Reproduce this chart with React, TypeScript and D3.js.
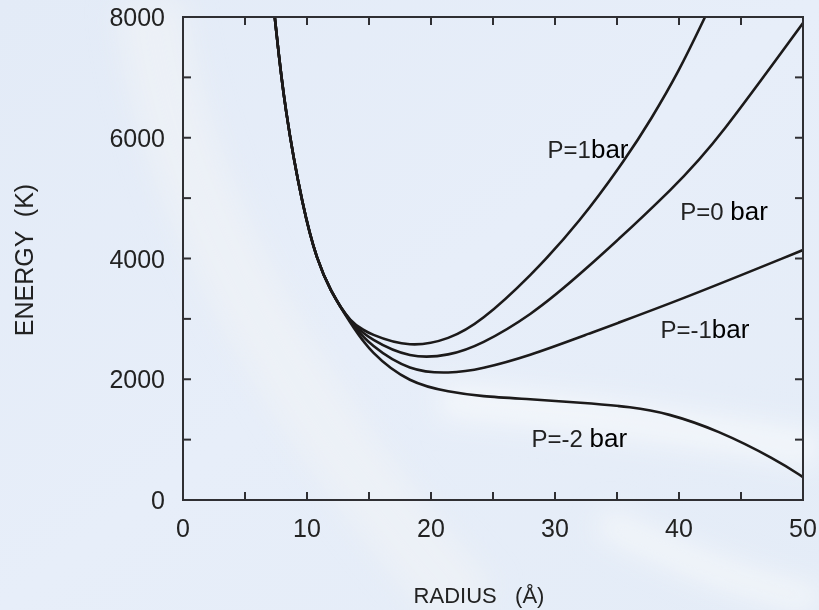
import React, { useEffect, useRef } from 'react';
import * as d3 from 'd3';

// Curves: [radius (Å), energy (K)]
const pPlus1 = [
    [7.4, 8000], [8.2, 6460], [9.7, 4800], [10.8, 3975], [11.85, 3478], [13.5, 2930],
    [15.1, 2740], [18.3, 2520], [21.5, 2660], [24, 2950], [28, 3700], [32, 4604],
    [35.8, 5680], [37.7, 6290], [40, 7100], [42.1, 8000]
];
const pZero = [
    [7.4, 8000], [8.2, 6460], [9.7, 4800], [10.8, 3975], [11.85, 3478], [13.5, 2930],
    [15.1, 2660], [18.3, 2340], [21.5, 2390], [24, 2570], [28, 3050], [32, 3720],
    [40.1, 5267], [43.1, 5962], [50, 7900]
];
const pMinus1 = [
    [7.4, 8000], [8.2, 6460], [9.7, 4800], [10.8, 3975], [11.85, 3478], [13.5, 2930],
    [15.1, 2560], [18.3, 2130], [21.5, 2095], [24, 2165], [28, 2395], [32, 2700],
    [40.1, 3312], [50, 4140]
];
const pMinus2 = [
    [7.4, 8000], [8.2, 6460], [9.7, 4800], [10.8, 3975], [11.85, 3478], [13.5, 2930],
    [15.1, 2440], [18.3, 1930], [21.5, 1790], [24, 1715], [28, 1670], [32, 1615],
    [36.3, 1540], [39, 1440], [43.1, 1160], [47.9, 662], [50, 380]
];

const seriesNames = ['P=1', 'P=0', 'P=-1', 'P=-2'];
const seriesValues = [pPlus1, pZero, pMinus1, pMinus2];

// label text (number part, gap before "bar"), anchor in data units
const labelText = [['P=1', ''], ['P=0', ' '], ['P=-1', ''], ['P=-2', ' ']];
const labelAnchors = [[29.4, 5664], [40.1, 4637], [38.5, 2683], [28.1, 878]];

const xTicks = [0, 5, 10, 15, 20, 25, 30, 35, 40, 45, 50];
const xTickLabels = [0, 10, 20, 30, 40, 50];
const yTicks = [0, 1000, 2000, 3000, 4000, 5000, 6000, 7000, 8000];
const yTickLabels = [0, 2000, 4000, 6000, 8000];

const App = () => {
    const svgRef = useRef(null);

    useEffect(() => {
        const svg = d3.select(svgRef.current);
        svg.selectAll('*').remove();

        const width = 819;
        const height = 610;
        const left = 183, right = 803, top = 17, bottom = 500;
        const font = '"Liberation Sans", Arial, Helvetica, sans-serif';

        svg.attr('width', width).attr('height', height);

        // Background: pale blue with soft light swirls
        const defs = svg.append('defs');
        const bg = defs.append('linearGradient')
            .attr('id', 'bg').attr('x1', 0).attr('y1', 0).attr('x2', 1).attr('y2', 1);
        bg.append('stop').attr('offset', '0%').attr('stop-color', '#e3ebf7');
        bg.append('stop').attr('offset', '50%').attr('stop-color', '#e7eef9');
        bg.append('stop').attr('offset', '100%').attr('stop-color', '#e4ecf7');
        defs.append('filter').attr('id', 'blur')
            .attr('x', '-20%').attr('y', '-20%').attr('width', '140%').attr('height', '140%')
            .append('feGaussianBlur').attr('stdDeviation', 14);
        defs.append('clipPath').attr('id', 'plotClip')
            .append('rect')
            .attr('x', left).attr('y', top)
            .attr('width', right - left).attr('height', bottom - top);

        svg.append('rect')
            .attr('width', width).attr('height', height)
            .attr('fill', 'url(#bg)');

        const swirls = svg.append('g').attr('filter', 'url(#blur)').attr('fill', 'none');
        swirls.append('path')
            .attr('d', 'M150,0 C170,200 300,420 470,610')
            .attr('stroke', '#eef1f6').attr('stroke-width', 70).attr('opacity', 0.8);
        swirls.append('path')
            .attr('d', 'M440,400 C560,410 700,430 819,450')
            .attr('stroke', '#f4f7fb').attr('stroke-width', 36).attr('opacity', 0.9);
        swirls.append('path')
            .attr('d', 'M600,520 C680,560 760,590 819,600')
            .attr('stroke', '#f3f6fa').attr('stroke-width', 30).attr('opacity', 0.9);

        const x = d3.scaleLinear().domain([0, 50]).range([left, right]);
        const y = d3.scaleLinear().domain([0, 8000]).range([bottom, top]);

        // Curves (B-spline through the read points smooths reading noise)
        const line = d3.line()
            .x(d => x(d[0]))
            .y(d => y(d[1]))
            .curve(d3.curveBasis);

        svg.append('g')
            .attr('clip-path', 'url(#plotClip)')
            .selectAll('path')
            .data(seriesValues)
            .enter()
            .append('path')
            .attr('class', (d, i) => `curve ${seriesNames[i]}`)
            .attr('d', line)
            .attr('fill', 'none')
            .attr('stroke', '#1c1a1a')
            .attr('stroke-width', 2.6)
            .attr('stroke-linejoin', 'round');

        // Frame and ticks on all sides
        const axisColor = '#2f2f33';
        const tickLen = 8;
        svg.append('rect')
            .attr('x', left).attr('y', top)
            .attr('width', right - left).attr('height', bottom - top)
            .attr('fill', 'none')
            .attr('stroke', axisColor)
            .attr('stroke-width', 2);

        const ticks = svg.append('g')
            .attr('stroke', axisColor)
            .attr('stroke-width', 2);
        xTicks.slice(1, -1).forEach(t => {
            ticks.append('line')
                .attr('x1', x(t)).attr('x2', x(t))
                .attr('y1', bottom).attr('y2', bottom - tickLen);
            ticks.append('line')
                .attr('x1', x(t)).attr('x2', x(t))
                .attr('y1', top).attr('y2', top + tickLen);
        });
        yTicks.slice(1, -1).forEach(t => {
            ticks.append('line')
                .attr('x1', left).attr('x2', left + tickLen)
                .attr('y1', y(t)).attr('y2', y(t));
            ticks.append('line')
                .attr('x1', right).attr('x2', right - tickLen)
                .attr('y1', y(t)).attr('y2', y(t));
        });

        // Tick labels
        svg.append('g')
            .selectAll('text')
            .data(xTickLabels)
            .enter()
            .append('text')
            .attr('x', d => x(d))
            .attr('y', bottom + 37)
            .attr('text-anchor', 'middle')
            .style('font-family', font)
            .style('font-size', '25px')
            .style('fill', '#222')
            .text(d => d);

        svg.append('g')
            .selectAll('text')
            .data(yTickLabels)
            .enter()
            .append('text')
            .attr('x', left - 18)
            .attr('y', d => y(d) + 9)
            .attr('text-anchor', 'end')
            .style('font-family', font)
            .style('font-size', '25px')
            .style('fill', '#222')
            .text(d => d);

        // Axis titles
        svg.append('text')
            .attr('transform', 'translate(33, 260) rotate(-90)')
            .attr('text-anchor', 'middle')
            .style('font-family', font)
            .style('font-size', '25px')
            .style('fill', '#222')
            .style('white-space', 'pre')
            .text('ENERGY  (K)');

        svg.append('text')
            .attr('x', 479)
            .attr('y', 603)
            .attr('text-anchor', 'middle')
            .style('font-family', font)
            .style('font-size', '22px')
            .style('fill', '#222')
            .style('white-space', 'pre')
            .text('RADIUS   (Å)');

        // Curve labels
        labelAnchors.forEach((pos, i) => {
            const t = svg.append('text')
                .attr('x', x(pos[0]))
                .attr('y', y(pos[1]))
                .style('font-family', font)
                .style('white-space', 'pre');
            t.append('tspan')
                .style('font-size', '24px')
                .style('fill', '#222')
                .text(labelText[i][0] + labelText[i][1]);
            t.append('tspan')
                .style('font-size', '26px')
                .style('fill', '#000')
                .text('bar');
        });
    }, []);

    return (
        <div style={{ position: 'fixed', left: 0, top: 0, width: 819, height: 610 }}>
            <svg ref={svgRef} style={{ display: 'block' }}></svg>
        </div>
    );
};

export default App;
